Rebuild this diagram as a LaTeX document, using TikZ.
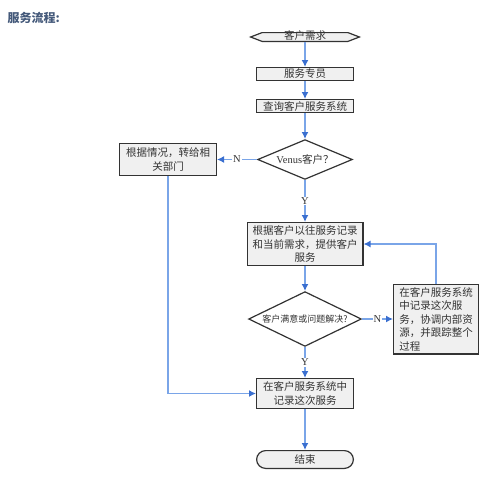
\documentclass[tikz,border=0pt]{standalone}
\usepackage{fontspec}
\setmainfont{Liberation Serif}
\newfontfamily\cjk{Noto Sans CJK SC}
\newfontfamily\lat{Liberation Serif}
\usetikzlibrary{arrows.meta,positioning,shapes.geometric,shapes.symbols}
\definecolor{lineblue}{HTML}{7AA5E8}
\definecolor{tipblue}{HTML}{3A6FD0}
\definecolor{boxgray}{HTML}{F0F0F0}
\definecolor{titleblue}{HTML}{44597A}

\begin{document}
\begin{tikzpicture}[
    block/.style={rectangle, draw=black!80, fill=boxgray, line width=1.2pt, inner sep=1pt, minimum width=96.8pt, align=center, text=black!80, font=\cjk\fontsize{10.5}{13.5}\selectfont},
    decision/.style={diamond, aspect=2, draw=black!80, fill=white, line width=1.2pt, inner sep=0pt, text=black!80, font=\cjk\fontsize{10.5}{13.5}\selectfont},
    terminal/.style={signal, signal to=west and east, signal pointer angle=42, draw=black!80, fill=boxgray, line width=1.2pt, inner sep=0pt, text height=6pt, text depth=1pt, text=black!80, font=\cjk\fontsize{10.5}{13.5}\selectfont},
    line/.style={draw=lineblue, -{Latex[length=7pt,width=7pt,color=tipblue]}, line width=1.6pt},
    answer/.style={fill=white, inner sep=1pt, text=black!80, font=\lat\fontsize{10.5}{12}\selectfont}
]
\useasboundingbox (0,0) rectangle (492pt,-485pt);

% Title
\node[anchor=west, text=titleblue, font=\cjk\bfseries\fontsize{12}{14}\selectfont] (title) at (4pt,-18pt) {服务流程:};

% Define nodes
\node[terminal, minimum width=108.8pt, minimum height=8.8pt] (request) at (305pt,-37pt) {客户需求};
\node[block, minimum height=12.8pt, below=25pt of request] (staff) {服务专员};
\node[block, minimum height=12.8pt, below=18pt of staff] (query) {查询客户服务系统};
\node[decision, minimum width=94.8pt, minimum height=39.8pt, below=26pt of query] (venus) {{\lat Venus}客户？};
\node[block, minimum height=31.8pt, left=40pt of venus] (transfer) {根据情况，转给相\\关部门};
\node[block, minimum width=115.8pt, minimum height=42.8pt, below=42pt of venus] (serve) {根据客户以往服务记录\\和当前需求，提供客户\\服务};
\node[decision, minimum width=112.8pt, minimum height=54.8pt, below=25pt of serve, font=\cjk\fontsize{9}{11}\selectfont] (solved) {客户满意或问题解决?};
\node[block, minimum width=84.8pt, minimum height=69.8pt, align=left, right=31pt of solved] (track) {在客户服务系统\\中记录这次服\\务，协调内部资\\源，并跟踪整个\\过程};
\node[block, minimum height=29.8pt, below=31pt of solved] (record) {在客户服务系统中\\记录这次服务};
\node[block, rounded corners=9pt, minimum height=17.8pt, below=41pt of record] (finish) {结束};

% Connect nodes
\draw[line] (request) -- (staff);
\draw[line] (staff) -- (query);
\draw[line] (query) -- (venus);
\draw[line] (venus) -- node[answer] {N} (transfer);
\draw[line] (venus) -- node[answer] {Y} (serve);
\draw[line] (serve) -- (solved);
\draw[line] (solved) -- node[answer] {N} (track);
\draw[line] (track.north) |- (serve.east);
\draw[line] (solved) -- node[answer] {Y} (record);
\draw[line] (transfer.south) |- (record.west);
\draw[line] (record) -- (finish);

\end{tikzpicture}
\end{document}
